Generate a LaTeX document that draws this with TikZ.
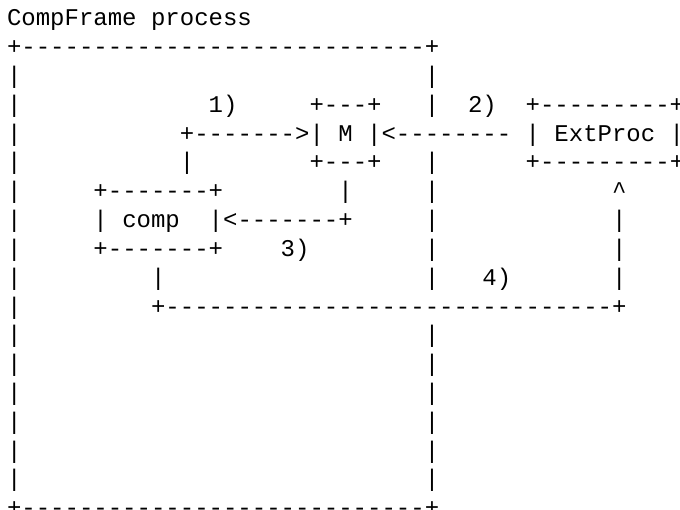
\documentclass[tikz,border=0pt]{standalone}
\usepackage{fontspec}
\setmonofont{Liberation Mono}
\newcommand\blanks[1]{\hspace*{\dimexpr#1\fontcharwd\font`M\relax}}
\tikzset{
  ascii/.style={anchor=base west, inner sep=0pt, outer sep=0pt,
    font=\ttfamily\fontsize{24.01}{28.82}\selectfont, text=black}
}
\begin{document}
\begin{tikzpicture}[x=1pt,y=1pt]
\useasboundingbox (0,0) rectangle (680,-509);
\node[ascii] (l1)  at (7,-25.8)  {CompFrame\blanks{1}process};
\node[ascii] (l2)  at (7,-54.62) {+----------------------------+};
\node[ascii] (l3)  at (7,-83.44) {|\blanks{28}|};
\node[ascii] (l4)  at (7,-112.26){|\blanks{13}1)\blanks{5}+---+\blanks{3}|\blanks{2}2)\blanks{2}+---------+};
\node[ascii] (l5)  at (7,-141.08){|\blanks{11}+------->|\blanks{1}M\blanks{1}|<--------\blanks{1}|\blanks{1}ExtProc\blanks{1}|};
\node[ascii] (l6)  at (7,-169.9) {|\blanks{11}|\blanks{8}+---+\blanks{3}|\blanks{6}+---------+};
\node[ascii] (l7)  at (7,-198.72){|\blanks{5}+-------+\blanks{8}|\blanks{5}|\blanks{12}\textasciicircum};
\node[ascii] (l8)  at (7,-227.54){|\blanks{5}|\blanks{1}comp\blanks{2}|<-------+\blanks{5}|\blanks{12}|};
\node[ascii] (l9)  at (7,-256.36){|\blanks{5}+-------+\blanks{4}3)\blanks{8}|\blanks{12}|};
\node[ascii] (l10) at (7,-285.18){|\blanks{9}|\blanks{18}|\blanks{3}4)\blanks{7}|};
\node[ascii] (l11) at (7,-314.0) {|\blanks{9}+-------------------------------+};
\node[ascii] (l12) at (7,-342.82){|\blanks{28}|};
\node[ascii] (l13) at (7,-371.64){|\blanks{28}|};
\node[ascii] (l14) at (7,-400.46){|\blanks{28}|};
\node[ascii] (l15) at (7,-429.28){|\blanks{28}|};
\node[ascii] (l16) at (7,-458.1) {|\blanks{28}|};
\node[ascii] (l17) at (7,-486.92){|\blanks{28}|};
\node[ascii] (l18) at (7,-515.74){+----------------------------+};
\end{tikzpicture}
\end{document}
